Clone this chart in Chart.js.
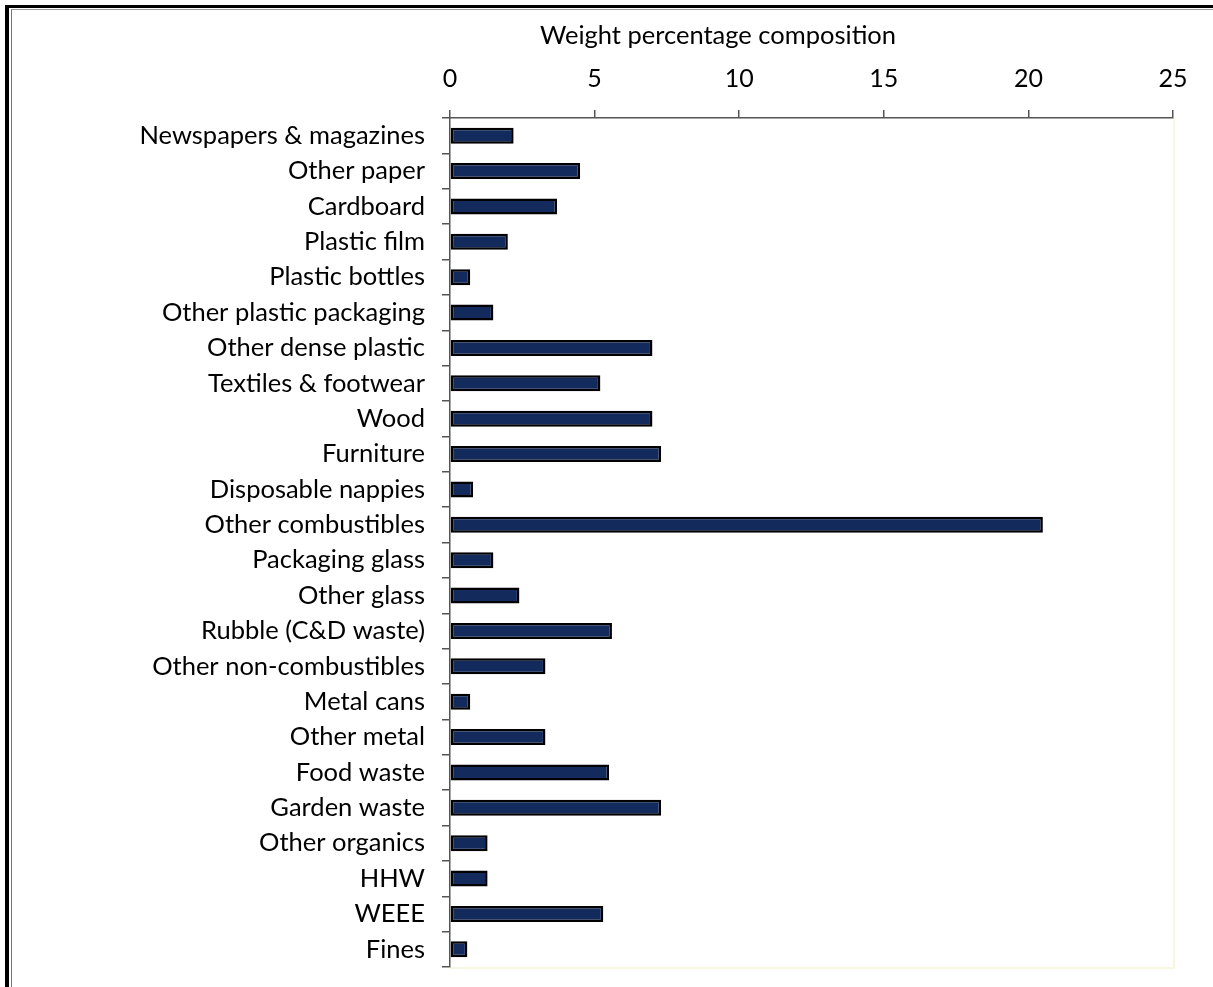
<!DOCTYPE html>
<html>
<head>
<meta charset="utf-8">
<script src="https://cdn.jsdelivr.net/npm/chart.js@4/dist/chart.umd.min.js"></script>
<style>
  html, body { margin: 0; padding: 0; background: #fff; overflow: hidden; }
  #frame {
    position: absolute; left: 5px; top: 5px; width: 1300px; height: 1100px;
    border-left: 4px solid #000; border-top: 3px solid #000;
  }
  #frame-inner {
    position: absolute; left: 2px; top: 1px; right: 0; bottom: 0;
    border-left: 1px solid #777; border-top: 1px solid #999;
  }
  #wrap { position: absolute; left: 0; top: 0; width: 1213px; height: 987px; }
</style>
</head>
<body>
<div id="frame"><div id="frame-inner"></div></div>
<div id="wrap"><canvas id="chart" width="1213" height="987"></canvas></div>
<script>
// Waste stream categories, top to bottom
const categories = [
  'Newspapers & magazines', 'Other paper', 'Cardboard', 'Plastic film',
  'Plastic bottles', 'Other plastic packaging', 'Other dense plastic',
  'Textiles & footwear', 'Wood', 'Furniture', 'Disposable nappies',
  'Other combustibles', 'Packaging glass', 'Other glass', 'Rubble (C&D waste)',
  'Other non-combustibles', 'Metal cans', 'Other metal', 'Food waste',
  'Garden waste', 'Other organics', 'HHW', 'WEEE', 'Fines'
];

// Weight percentage of each category
const weightPercent = [
  2.2, 4.5, 3.7, 2.0,
  0.7, 1.5, 7.0,
  5.2, 7.0, 7.3, 0.8,
  20.5, 1.5, 2.4, 5.6,
  3.3, 0.7, 3.3, 5.5,
  7.3, 1.3, 1.3, 5.3, 0.6
];

// Horizontal axis ticks
const axisTicks = [0, 5, 10, 15, 20, 25];
const axisCaption = 'Weight percentage composition';

const FONT = 'Lato, "Open Sans", sans-serif';

// Light frame on the right and bottom edges of the plot area, plus the axis caption
const plotDecor = {
  id: 'plotDecor',
  beforeDraw(chart) {
    const { ctx, chartArea: a } = chart;
    ctx.save();
    ctx.strokeStyle = '#f6f6e2';
    ctx.lineWidth = 2;
    ctx.beginPath();
    ctx.moveTo(a.right + 1, a.top);
    ctx.lineTo(a.right + 1, a.bottom + 1);
    ctx.lineTo(a.left, a.bottom + 1);
    ctx.stroke();
    ctx.restore();
  },
  afterDraw(chart) {
    const { ctx } = chart;
    ctx.save();
    ctx.fillStyle = '#000';
    ctx.font = '25.5px ' + FONT;
    ctx.textAlign = 'center';
    ctx.textBaseline = 'alphabetic';
    ctx.fillText(axisCaption, 718, 44);
    ctx.restore();
  }
};

new Chart(document.getElementById('chart'), {
  type: 'bar',
  data: {
    labels: categories,
    datasets: [{
      data: weightPercent,
      backgroundColor: '#122b5c',
      borderColor: '#000',
      borderWidth: 2.5,
      borderSkipped: false,
      barPercentage: 0.45,
      categoryPercentage: 1.0
    }]
  },
  options: {
    indexAxis: 'y',
    responsive: false,
    animation: false,
    layout: { padding: { left: 0, top: 0, right: 40, bottom: 20 } },
    plugins: {
      legend: { display: false },
      tooltip: { enabled: false },
      title: { display: false }
    },
    scales: {
      x: {
        position: 'top',
        min: 0,
        max: 25,
        afterBuildTicks(scale) {
          scale.ticks = axisTicks.map(v => ({ value: v }));
        },
        afterFit(scale) {
          scale.height = 118;
          scale.paddingLeft = 0;
          scale.paddingRight = 0;
        },
        border: { display: true, color: '#555', width: 1.5 },
        grid: {
          display: true,
          drawOnChartArea: false,
          drawTicks: true,
          tickLength: 8,
          color: '#555',
          lineWidth: 1.5
        },
        ticks: {
          color: '#000',
          padding: 16,
          maxRotation: 0,
          font: { family: FONT, size: 25 }
        }
      },
      y: {
        offset: true,
        afterFit(scale) {
          scale.width = 450;
          scale.paddingTop = 0;
          scale.paddingBottom = 0;
        },
        border: { display: true, color: '#555', width: 1.5 },
        grid: {
          display: true,
          offset: true,
          drawOnChartArea: false,
          drawTicks: true,
          tickLength: 8,
          color: '#555',
          lineWidth: 1.5
        },
        ticks: {
          color: '#000',
          padding: 17,
          autoSkip: false,
          font: { family: FONT, size: 25.5 }
        }
      }
    }
  },
  plugins: [plotDecor]
});
</script>
</body>
</html>
